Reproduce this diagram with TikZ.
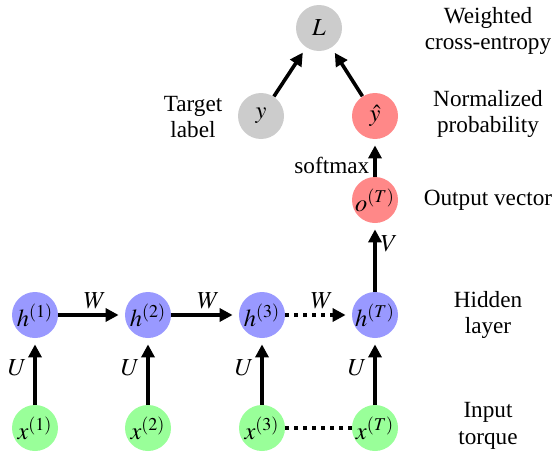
\documentclass[tikz,border=0pt]{standalone}
\usepackage{mathptmx}
\usepackage{fontspec}
\setmainfont{Liberation Serif}
\usetikzlibrary{arrows.meta}
\definecolor{hblue}{RGB}{153,153,255}
\definecolor{xgreen}{RGB}{153,255,153}
\definecolor{ored}{RGB}{255,136,136}
\definecolor{lgray}{RGB}{204,204,204}
\begin{document}
\begin{tikzpicture}[x=0.5pt,y=-0.5pt,
  font=\fontsize{11.6}{13.4}\selectfont,
  nd/.style={circle,minimum size=23pt,inner sep=0pt,font=\fontsize{12.2}{14}\selectfont},
  hn/.style={nd,fill=hblue},
  xn/.style={nd,fill=xgreen},
  on/.style={nd,fill=ored},
  gn/.style={nd,fill=lgray},
  arr/.style={line width=1.8pt,-{Triangle[length=6.5pt,width=6.5pt]},shorten >=3pt},
  dotl/.style={line width=1.8pt,dash pattern=on 1.8pt off 2.7pt},
  lbl/.style={font=\fontsize{12.2}{14}\selectfont},
  side/.style={align=center}]
\useasboundingbox (0,0) rectangle (557,455);
% nodes
\node[hn] (h1) at (35,315) {$h^{(1)}$};
\node[hn] (h2) at (148,315) {$h^{(2)}$};
\node[hn] (h3) at (262,315) {$h^{(3)}$};
\node[hn] (hT) at (375,315) {$h^{(T)}$};
\node[xn] (x1) at (35,428) {$x^{(1)}$};
\node[xn] (x2) at (148,428) {$x^{(2)}$};
\node[xn] (x3) at (262,428) {$x^{(3)}$};
\node[xn] (xT) at (375,428) {$x^{(T)}$};
\node[on] (oT) at (375,200) {$o^{(T)}$};
\node[on] (yh) at (375,116) {$\hat{y}$};
\node[gn] (y) at (261,116) {$y$};
\node[gn] (L) at (319,28) {$L$};
% side labels
\node[side] (t1) at (488,31) {Weighted\\cross-entropy};
\node[side] (t2) at (488,114) {Normalized\\probability};
\node[side] (t3) at (488,200) {Output vector};
\node[side] (t4) at (488,315) {Hidden\\layer};
\node[side] (t5) at (488,426) {Input\\torque};
\node[side] (t6) at (193,117) {Target\\label};
% edges
\draw[arr] (x1) -- node[lbl,left,pos=0.55]{$U$} (h1);
\draw[arr] (x2) -- node[lbl,left,pos=0.55]{$U$} (h2);
\draw[arr] (x3) -- node[lbl,left,pos=0.55]{$U$} (h3);
\draw[arr] (xT) -- node[lbl,left,pos=0.55]{$U$} (hT);
\draw[arr] (h1) -- node[lbl,above,pos=0.55,inner sep=2pt]{$W$} (h2);
\draw[arr] (h2) -- node[lbl,above,pos=0.55,inner sep=2pt]{$W$} (h3);
\draw[arr,dotl] (h3) -- node[lbl,above,pos=0.55,inner sep=2pt]{$W$} (hT);
\draw[dotl] (x3) -- (xT);
\draw[arr] (hT) -- node[lbl,right,pos=0.7,inner sep=2pt]{$V$} (oT);
\draw[arr] (oT) -- node[left,pos=0.3,inner sep=2pt]{softmax} (yh);
\draw[arr] (y) -- (L);
\draw[arr] (yh) -- (L);
\end{tikzpicture}
\end{document}
